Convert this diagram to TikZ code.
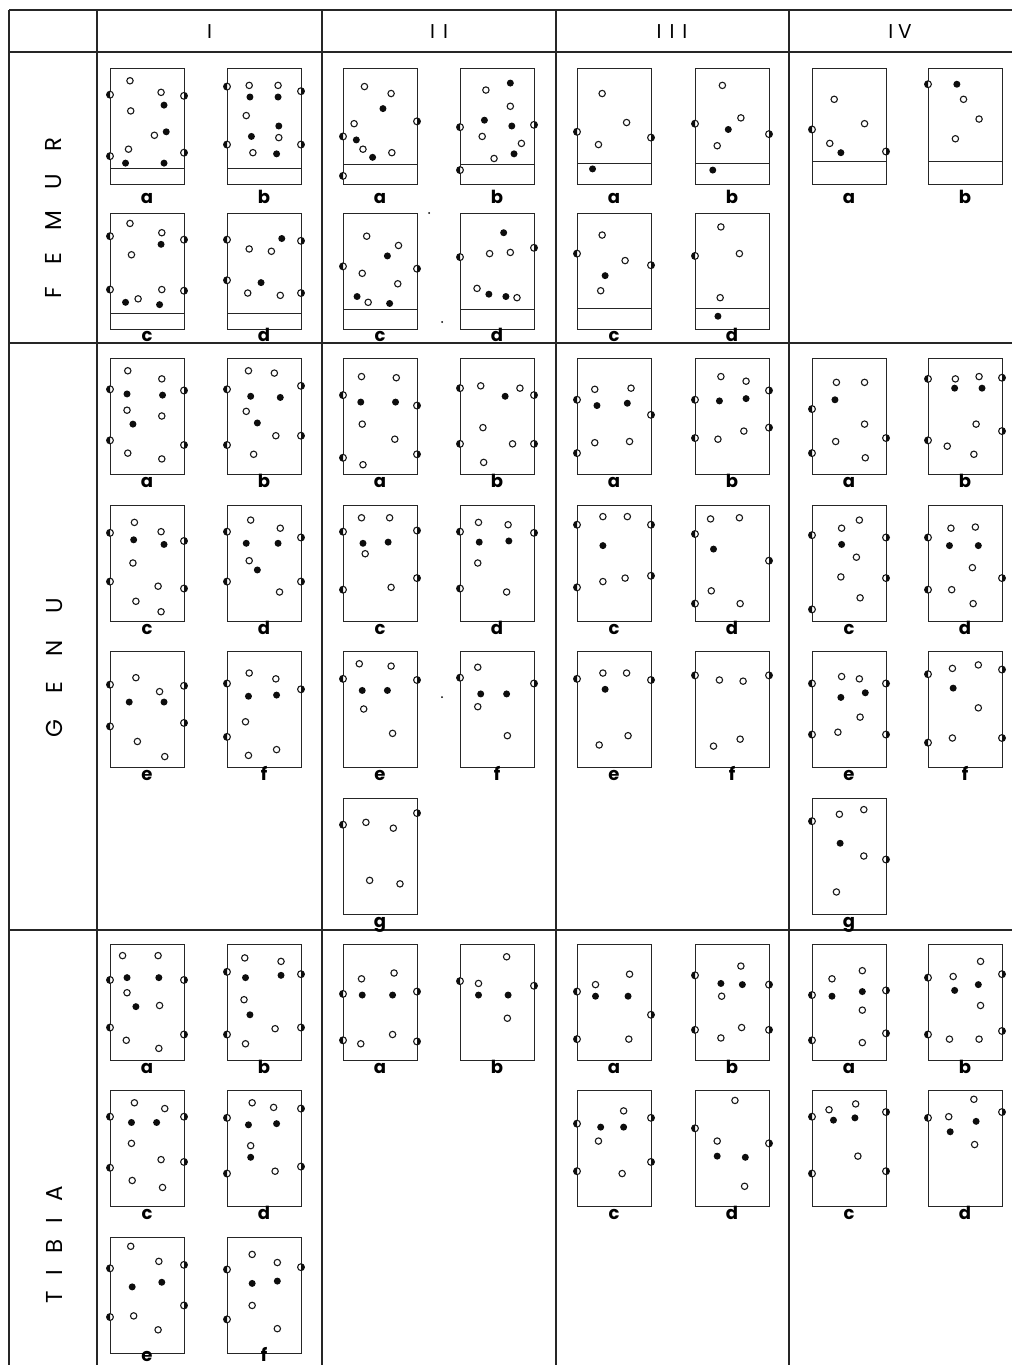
\documentclass[tikz,border=0pt]{standalone}
\usepackage{fontspec}
\setmainfont{Poppins}
\newcommand\laboff{129}
\newcommand\bx[5]{%
 \begin{scope}[shift={(#1,#2)}]
  \draw[boxln] (0,0) rectangle (74,116);
  \ifnum#4>0 \draw[boxln] (0,{#4*1.16}) -- (74,{#4*1.16});\fi
  \node[lab,name=lab-#1-#2] at (37,\laboff) {#3};
  \foreach \dt/\du/\dv in {#5}{%
    \if\dt o\draw[odot] ({\du*0.74},{\dv*1.16}) circle[radius=3.2pt];\fi
    \if\dt f\fill[dotc] ({\du*0.74},{\dv*1.16}) circle[radius=3.5pt];\fi
    \if\dt l\draw[odot] (0,{\dv*1.16}) circle[radius=3.4pt];
      \fill[dotc] (0,{\dv*1.16}) -- ++(0,3.4pt) arc[start angle=90,end angle=270,radius=3.4pt] -- cycle;\fi
    \if\dt r\draw[odot] (74,{\dv*1.16}) circle[radius=3.4pt];
      \fill[dotc] (74,{\dv*1.16}) -- ++(0,3.4pt) arc[start angle=90,end angle=-90,radius=3.4pt] -- cycle;\fi
  }
 \end{scope}}
\begin{document}
\begin{tikzpicture}[x=1pt,y=-1pt,
 tbl/.style={line width=1.5pt,draw=black!85},
 boxln/.style={line width=1pt,draw=black!85},
 odot/.style={line width=1.1pt,draw=black!90,fill=white},
 dotc/.style={fill=black!95},
 lab/.style={anchor=base,font=\fontsize{18}{18}\selectfont\bfseries,inner sep=0pt},
 hdr/.style={font=\fontsize{20}{20}\selectfont,inner sep=0pt},
 sec/.style={font=\fontsize{23}{23}\selectfont,rotate=90,inner sep=0pt}]
\fill[white] (0,0) rectangle (1012,1365);
\useasboundingbox (0,0) rectangle (1012,1365);
% table
\draw[tbl] (9,10) -- (1012,10);
\draw[tbl] (9,52) -- (1012,52);
\draw[tbl] (9,343) -- (1012,343);
\draw[tbl] (9,930) -- (1012,930);
\foreach \xx in {9,97,322,556,789} {\draw[tbl] (\xx,10) -- (\xx,1365);}
% headers
\node[hdr] (h1) at (209.5,32) {I};
\node[hdr] (h2) at (439,32) {I\hspace{8pt}I};
\node[hdr] (h3) at (672,32) {I\hspace{8pt}I\hspace{8pt}I};
\node[hdr] (h4) at (900,32) {I\hspace{5pt}V};
% section names
\node[sec] (sf) at (54,218) {F\hspace{22pt}E\hspace{22pt}M\hspace{22pt}U\hspace{22pt}R};
\node[sec] (sg) at (54,668) {G\hspace{26pt}E\hspace{26pt}N\hspace{26pt}U};
\node[sec] (st) at (54,1245) {T\hspace{16pt}I\hspace{16pt}B\hspace{16pt}I\hspace{16pt}A};
% specks
\fill (429,213) circle[radius=1pt];
\fill (442,322) circle[radius=1pt];
\fill (442,697) circle[radius=1pt];
% ---------- FEMUR ----------
\renewcommand\laboff{135}
\bx{110}{68}{a}{87}{o/27/11, l/0/23, o/69/21, r/0/24, f/73/32, o/28/37, f/76/55, o/60/58, o/25/70, l/0/76, r/0/73, f/21/82, f/73/82}
\bx{227}{68}{b}{87}{l/0/16, o/30/15, o/69/15, r/0/20, f/31/25, f/69/25, o/26/41, f/70/50, f/33/59, o/70/60, l/0/66, r/0/66, o/35/73, f/67/74}
\bx{343}{68}{a}{83}{o/29/16, o/65/22, f/54/35, r/0/46, o/15/48, l/0/59, f/18/62, o/27/70, f/40/77, o/66/73, l/0/93}
\bx{460}{68}{b}{83}{f/68/13, o/35/19, o/68/33, f/33/45, f/70/50, l/0/51, r/0/49, o/30/59, o/83/65, f/73/74, o/46/78, l/0/88}
\bx{577}{68}{a}{82}{o/34/22, o/67/47, l/0/55, r/0/60, o/29/66, f/21/87}
\bx{695}{68}{b}{82}{o/37/15, o/62/43, l/0/48, f/45/53, r/0/57, o/30/67, f/24/88}
\bx{812}{68}{a}{81}{o/30/27, o/71/48, l/0/53, o/24/65, f/39/73, r/0/72}
\bx{928}{68}{b}{81}{l/0/14, f/39/14, o/48/27, o/69/44, o/37/61}
\renewcommand\laboff{128}
\bx{110}{213}{c}{87}{o/27/9, l/0/20, o/70/17, r/0/23, f/69/27, o/29/36, l/0/66, o/70/66, r/0/67, f/21/77, o/38/74, f/67/79}
\bx{227}{213}{d}{87}{l/0/23, f/74/22, r/0/24, o/30/31, o/60/33, l/0/58, f/46/60, o/28/69, o/72/71, r/0/69}
\bx{343}{213}{c}{83}{o/32/20, o/75/28, f/60/37, l/0/46, r/0/48, o/26/52, o/74/61, f/19/72, o/34/77, f/63/78}
\bx{460}{213}{d}{83}{f/59/17, r/0/30, l/0/38, o/40/35, o/68/34, o/23/65, f/39/70, f/62/72, o/77/73}
\bx{577}{213}{c}{82}{o/34/19, l/0/35, o/65/41, r/0/45, f/38/54, o/32/67}
\bx{695}{213}{d}{82}{o/35/12, l/0/37, o/60/35, o/34/73, f/31/89}
% ---------- GENU ----------
\renewcommand\laboff{129}
\bx{110}{358}{a}{0}{o/24/11, o/70/18, l/0/27, r/0/28, f/23/31, f/71/32, o/23/45, o/70/50, f/31/57, l/0/71, r/0/75, o/24/82, o/70/87}
\bx{227}{358}{b}{0}{o/29/11, o/64/13, r/0/24, l/0/27, f/32/33, f/72/34, o/26/46, f/41/56, o/66/67, r/0/67, l/0/75, o/36/83}
\bx{110}{505}{c}{0}{o/33/15, o/69/23, l/0/24, f/32/30, f/73/34, r/0/31, o/31/50, l/0/66, o/65/70, r/0/72, o/35/83, o/69/92}
\bx{227}{505}{d}{0}{o/32/13, o/72/20, l/0/23, r/0/28, f/26/33, f/69/33, o/30/48, f/41/56, l/0/66, r/0/66, o/71/75}
\bx{110}{651}{e}{0}{o/35/23, l/0/29, r/0/30, o/67/35, f/26/44, f/73/44, l/0/65, r/0/62, o/37/78, o/74/91}
\bx{227}{651}{f}{0}{o/30/19, o/66/24, l/0/28, r/0/33, f/29/39, f/67/38, o/25/61, l/0/74, o/67/85, o/29/90}
\bx{343}{358}{a}{0}{o/25/16, o/72/17, l/0/32, f/24/38, f/71/38, r/0/41, o/26/57, o/70/70, l/0/86, r/0/83, o/27/92}
\bx{460}{358}{b}{0}{o/28/24, o/81/26, l/0/26, f/61/33, r/0/32, o/31/60, l/0/74, o/71/74, r/0/74, o/32/90}
\bx{343}{505}{c}{0}{o/25/11, o/63/11, l/0/23, r/0/22, f/27/33, f/61/32, o/30/42, l/0/73, o/65/71, r/0/63}
\bx{460}{505}{d}{0}{o/25/15, o/65/17, l/0/23, r/0/24, f/26/32, f/66/31, o/24/50, l/0/72, o/63/75}
\bx{343}{651}{e}{0}{o/22/11, o/65/13, l/0/24, r/0/25, f/26/34, f/60/34, o/28/50, o/67/71}
\bx{460}{651}{f}{0}{o/24/14, l/0/23, r/0/28, f/28/37, f/63/37, o/24/48, o/64/73}
\bx{343}{798}{g}{0}{l/0/23, o/31/21, o/68/26, r/0/13, o/36/71, o/77/74}
\bx{577}{358}{a}{0}{o/24/27, o/73/26, l/0/36, f/27/41, f/68/39, r/0/49, o/24/73, o/71/72, l/0/82}
\bx{695}{358}{b}{0}{o/35/16, o/69/20, r/0/28, l/0/36, f/33/37, f/69/35, l/0/69, o/31/70, o/66/63, r/0/60}
\bx{577}{505}{c}{0}{o/35/10, o/68/10, l/0/17, r/0/17, f/35/35, l/0/71, o/35/66, o/65/63, r/0/61}
\bx{695}{505}{d}{0}{o/21/12, o/60/11, l/0/25, f/25/38, r/0/48, o/22/74, l/0/85, o/61/85}
\bx{577}{651}{e}{0}{o/35/19, o/67/19, l/0/24, r/0/25, f/38/33, o/69/73, o/30/81}
\bx{695}{651}{f}{0}{l/0/21, o/33/25, o/65/26, r/0/21, o/61/76, o/25/82}
\bx{812}{358}{a}{0}{o/33/21, o/71/21, f/31/36, l/0/44, o/71/57, o/32/72, r/0/69, l/0/82, o/72/86}
\bx{928}{358}{b}{0}{l/0/18, o/37/18, o/69/16, r/0/17, f/36/26, f/73/26, o/65/57, r/0/63, l/0/71, o/26/76, o/62/83}
\bx{812}{505}{c}{0}{o/64/13, o/40/20, l/0/26, r/0/28, f/40/34, o/60/45, o/39/62, r/0/63, o/65/80, l/0/90}
\bx{928}{505}{d}{0}{o/31/20, o/64/19, l/0/28, f/29/35, f/68/35, o/60/54, l/0/73, o/32/73, r/0/63, o/61/85}
\bx{812}{651}{e}{0}{o/40/22, o/64/24, l/0/28, r/0/28, f/39/40, f/72/36, o/65/57, l/0/72, o/35/70, r/0/72}
\bx{928}{651}{f}{0}{o/33/15, o/68/12, l/0/20, r/0/16, f/34/32, o/68/49, l/0/79, o/33/75, r/0/75}
\bx{812}{798}{g}{0}{o/37/14, o/70/10, l/0/20, f/38/39, o/70/50, r/0/53, o/33/81}
% ---------- TIBIA ----------
\bx{110}{944}{a}{0}{o/17/10, o/65/10, l/0/31, f/23/29, f/66/29, r/0/31, o/23/42, f/35/54, o/67/53, l/0/72, r/0/78, o/22/83, o/66/90}
\bx{227}{944}{b}{0}{o/24/12, o/73/15, l/0/24, f/25/29, f/73/27, r/0/26, o/23/48, f/31/61, o/65/73, r/0/72, l/0/78, o/25/86}
\bx{110}{1090}{c}{0}{o/33/11, o/74/16, l/0/23, r/0/23, f/29/28, f/63/28, o/29/46, o/69/60, l/0/67, r/0/62, o/30/78, o/71/84}
\bx{227}{1090}{d}{0}{o/34/11, o/63/15, r/0/16, l/0/24, f/29/30, f/67/29, o/32/48, f/32/58, r/0/66, l/0/72, o/65/70}
\bx{343}{944}{a}{0}{o/25/30, o/69/25, l/0/43, f/26/44, f/67/44, r/0/41, l/0/83, o/24/86, o/67/78, r/0/84}
\bx{460}{944}{b}{0}{o/63/11, l/0/32, o/25/34, r/0/36, f/25/44, f/65/44, o/64/64}
\bx{577}{944}{a}{0}{o/71/26, o/25/35, l/0/41, f/25/45, f/69/45, r/0/61, l/0/82, o/70/82}
\bx{695}{944}{b}{0}{o/62/19, l/0/27, f/35/34, f/64/35, r/0/35, o/36/45, l/0/74, o/63/72, r/0/74, o/35/81}
\bx{577}{1090}{c}{0}{o/63/18, l/0/29, f/32/32, f/63/32, r/0/24, o/29/44, l/0/70, r/0/62, o/61/72}
\bx{695}{1090}{d}{0}{o/54/9, l/0/33, o/30/44, r/0/46, f/30/57, f/68/58, o/67/83}
\bx{812}{944}{a}{0}{o/68/23, o/27/30, r/0/40, l/0/44, f/27/45, f/68/41, o/68/57, l/0/83, r/0/77, o/68/85}
\bx{928}{944}{b}{0}{o/71/15, l/0/29, o/34/28, r/0/26, f/68/35, f/36/40, o/71/53, l/0/78, o/29/82, o/69/82, r/0/75}
\bx{812}{1090}{c}{0}{o/23/17, o/59/12, l/0/23, f/29/26, f/58/24, r/0/19, o/62/57, l/0/72, r/0/70}
\bx{928}{1090}{d}{0}{o/62/8, l/0/24, o/28/23, r/0/19, f/65/27, f/30/36, o/63/47}
\renewcommand\laboff{124}
\bx{110}{1237}{e}{0}{o/28/8, o/66/21, l/0/27, r/0/24, f/30/43, f/70/39, r/0/59, l/0/69, o/32/68, o/65/80}
\bx{227}{1237}{f}{0}{o/34/15, o/68/22, l/0/28, r/0/26, f/34/40, f/68/38, o/34/59, l/0/71, o/68/79}
\end{tikzpicture}
\end{document}
